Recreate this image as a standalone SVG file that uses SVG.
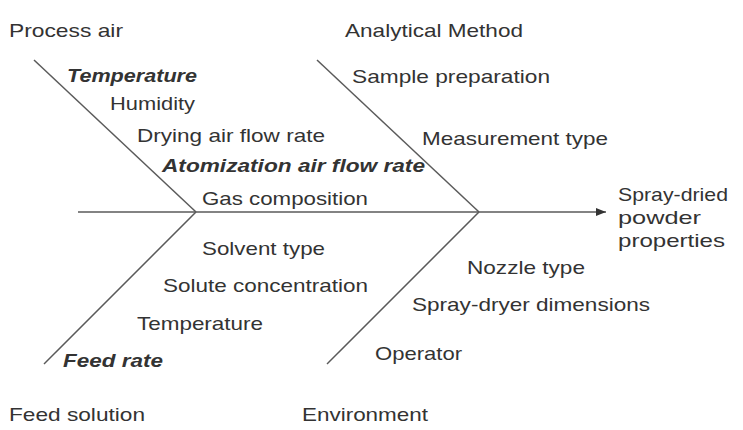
<svg xmlns="http://www.w3.org/2000/svg" width="743" height="430" viewBox="0 0 743 430">
  <style>
    text { font-family: "Liberation Sans", Arial, Helvetica, sans-serif; font-size: 19px; fill: #333333; }
    .em { font-weight: bold; font-style: italic; }
    .bone { stroke: #5a5a5a; stroke-width: 1.5; fill: none; }
  </style>
  <defs>
    <marker id="arrow" viewBox="0 0 10 8" refX="10" refY="4" markerWidth="10" markerHeight="8" markerUnits="userSpaceOnUse" orient="auto">
      <path d="M0,0 L10,4 L0,8 Z" fill="#333333"/>
    </marker>
  </defs>
  <rect width="743" height="430" fill="#ffffff"/>

  <!-- spine and category bones -->
  <g id="connectors">
    <line class="bone" x1="78" y1="212" x2="606" y2="212" marker-end="url(#arrow)"/>
    <line class="bone" x1="34" y1="60" x2="196" y2="212"/>
    <line class="bone" x1="196" y1="212" x2="44" y2="364"/>
    <line class="bone" x1="317" y1="60" x2="479" y2="212"/>
    <line class="bone" x1="479" y1="212" x2="327" y2="364"/>
  </g>

  <!-- Process air -->
  <g id="process-air">
    <text x="9" y="37" textLength="114" lengthAdjust="spacingAndGlyphs">Process air</text>
    <text class="em" x="67" y="82" textLength="130" lengthAdjust="spacingAndGlyphs">Temperature</text>
    <text x="110" y="110" textLength="85" lengthAdjust="spacingAndGlyphs">Humidity</text>
    <text x="137" y="142" textLength="188" lengthAdjust="spacingAndGlyphs">Drying air flow rate</text>
    <text class="em" x="162" y="172" textLength="263" lengthAdjust="spacingAndGlyphs">Atomization air flow rate</text>
    <text x="202" y="205" textLength="166" lengthAdjust="spacingAndGlyphs">Gas composition</text>
  </g>

  <!-- Analytical Method -->
  <g id="analytical-method">
    <text x="345" y="37" textLength="178" lengthAdjust="spacingAndGlyphs">Analytical Method</text>
    <text x="352" y="83" textLength="198" lengthAdjust="spacingAndGlyphs">Sample preparation</text>
    <text x="422" y="145" textLength="186" lengthAdjust="spacingAndGlyphs">Measurement type</text>
  </g>

  <!-- Feed solution -->
  <g id="feed-solution">
    <text x="202" y="255" textLength="123" lengthAdjust="spacingAndGlyphs">Solvent type</text>
    <text x="163" y="292" textLength="205" lengthAdjust="spacingAndGlyphs">Solute concentration</text>
    <text x="137" y="330" textLength="126" lengthAdjust="spacingAndGlyphs">Temperature</text>
    <text class="em" x="63" y="367" textLength="100" lengthAdjust="spacingAndGlyphs">Feed rate</text>
    <text x="9" y="421" textLength="136" lengthAdjust="spacingAndGlyphs">Feed solution</text>
  </g>

  <!-- Environment -->
  <g id="environment">
    <text x="467" y="274" textLength="118" lengthAdjust="spacingAndGlyphs">Nozzle type</text>
    <text x="412" y="311" textLength="238" lengthAdjust="spacingAndGlyphs">Spray-dryer dimensions</text>
    <text x="375" y="360" textLength="87" lengthAdjust="spacingAndGlyphs">Operator</text>
    <text x="302" y="421" textLength="126" lengthAdjust="spacingAndGlyphs">Environment</text>
  </g>

  <!-- Effect -->
  <g id="effect">
    <text x="618" y="201" textLength="110" lengthAdjust="spacingAndGlyphs">Spray-dried</text>
    <text x="618" y="224" textLength="83" lengthAdjust="spacingAndGlyphs">powder</text>
    <text x="618" y="247" textLength="107" lengthAdjust="spacingAndGlyphs">properties</text>
  </g>
</svg>
